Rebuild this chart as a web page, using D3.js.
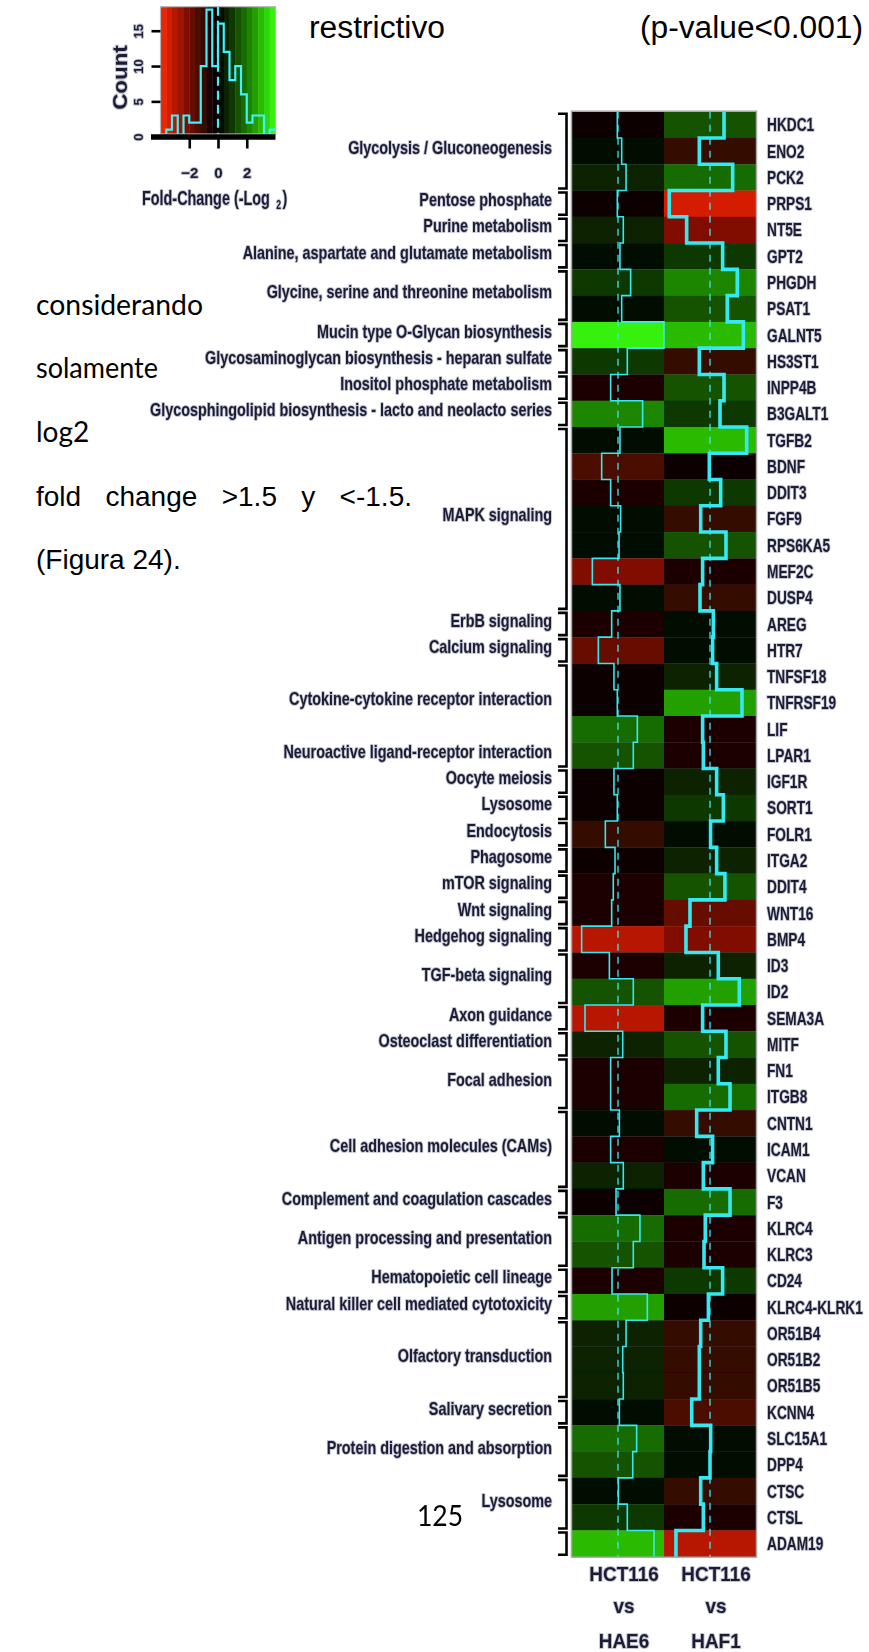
<!DOCTYPE html>
<html>
<head>
<meta charset="utf-8">
<script src="https://cdn.jsdelivr.net/npm/d3@7"></script>
<style>
  html, body { margin: 0; padding: 0; background: #fff; }
  svg { display: block; }
  .doc { font-family: "Liberation Sans", Arial, sans-serif; fill: #000; }
  .doc2 { font-family: Lato, "Liberation Sans", sans-serif; fill: #000; }
  .lab { font-family: "Liberation Sans", Arial, sans-serif; font-weight: bold; fill: #1d1d33;
         stroke: #c3c6d6; stroke-width: 2; paint-order: stroke; stroke-linejoin: round; }
</style>
</head>
<body>
<svg id="fig" width="869" height="1652"></svg>
<script>
// Genes shown in the heatmap, top to bottom
const genes = ["HKDC1","ENO2","PCK2","PRPS1","NT5E","GPT2","PHGDH","PSAT1","GALNT5","HS3ST1",
  "INPP4B","B3GALT1","TGFB2","BDNF","DDIT3","FGF9","RPS6KA5","MEF2C","DUSP4","AREG",
  "HTR7","TNFSF18","TNFRSF19","LIF","LPAR1","IGF1R","SORT1","FOLR1","ITGA2","DDIT4",
  "WNT16","BMP4","ID3","ID2","SEMA3A","MITF","FN1","ITGB8","CNTN1","ICAM1",
  "VCAN","F3","KLRC4","KLRC3","CD24","KLRC4-KLRK1","OR51B4","OR51B2","OR51B5","KCNN4",
  "SLC15A1","DPP4","CTSC","CTSL","ADAM19"];

// log2 fold change, HCT116 vs HAE6
const hae6 = [-0.06, 0.32, 0.70, -0.06, 0.46, 0.17, 1.10, 0.32, 4.00, 0.81,
  -0.64, 2.14, 0.17, -1.42, -0.64, 0.23, 0.09, -2.23, 0.17, -0.55,
  -1.71, -0.35, -0.06, 1.68, 1.33, -0.35, -0.06, -1.10, -0.26, -0.41,
  -0.55, -3.16, -0.75, 1.33, -2.87, 0.41, -0.64, -0.64, 0.12, -0.64,
  0.46, -0.17, 1.91, 1.33, -0.52, 2.55, 0.70, 0.41, 0.46, 0.12,
  1.62, 1.28, 0.03, 0.81, 3.13];

// log2 fold change, HCT116 vs HAF1
const haf1 = [1.22, -0.93, 1.97, -3.54, -2.03, 1.10, 2.37, 1.50, 2.90, -0.93,
  1.22, 0.87, 3.19, -0.06, 0.93, -0.81, 1.39, -0.64, -0.87, 0.29,
  0.23, 0.58, 2.78, -0.64, -0.58, 0.58, 1.16, 0.05, 0.58, 1.30,
  -1.74, -2.09, 0.72, 2.55, -0.64, 1.39, 0.72, 1.74, -1.16, 0.23,
  -0.58, 1.74, -0.41, -0.52, 1.10, -0.14, -0.81, -0.93, -0.93, -1.59,
  0.06, 0.00, -0.81, -0.58, -2.96];

const comparisons = ["HAE6", "HAF1"];

// KEGG pathway groups and how many consecutive genes each one covers
const pathwayNames = ["Glycolysis / Gluconeogenesis", "Pentose phosphate", "Purine metabolism",
  "Alanine, aspartate and glutamate metabolism", "Glycine, serine and threonine metabolism",
  "Mucin type O-Glycan biosynthesis", "Glycosaminoglycan biosynthesis - heparan sulfate",
  "Inositol phosphate metabolism", "Glycosphingolipid biosynthesis - lacto and neolacto series",
  "MAPK signaling", "ErbB signaling", "Calcium signaling", "Cytokine-cytokine receptor interaction",
  "Neuroactive ligand-receptor interaction", "Oocyte meiosis", "Lysosome", "Endocytosis",
  "Phagosome", "mTOR signaling", "Wnt signaling", "Hedgehog signaling", "TGF-beta signaling",
  "Axon guidance", "Osteoclast differentiation", "Focal adhesion", "Cell adhesion molecules (CAMs)",
  "Complement and coagulation cascades", "Antigen processing and presentation",
  "Hematopoietic cell lineage", "Natural killer cell mediated cytotoxicity", "Olfactory transduction",
  "Salivary secretion", "Protein digestion and absorption", "Lysosome", ""];
const pathwaySizes = [3, 1, 1, 1, 2, 1, 1, 1, 1, 7, 1, 1, 3, 1, 1, 1, 1, 1, 1, 1, 1, 2,
  1, 1, 2, 3, 1, 2, 1, 1, 3, 1, 2, 2, 1];
// groups whose bracket runs on into the following group
const sharedBracket = ["Cytokine-cytokine receptor interaction"];

// colour key / histogram settings
const foldRange = [-4, 4];
const nBreaks = 20;
const countTicks = [0, 5, 10, 15];
const foldTicks = [-2, 0, 2];

// surrounding document text
const docLines = [
  { text: "considerando", x: 36, y: 315, cls: "doc2", len: 167 },
  { text: "solamente", x: 36, y: 378, cls: "doc2", len: 122 },
  { text: "log2", x: 36, y: 442, cls: "doc2", len: null },
  { text: "fold change >1.5 y <-1.5.", x: 36, y: 506, cls: "doc", len: 376 },
  { text: "(Figura 24).", x: 36, y: 569, cls: "doc", len: null }
];

const svg = d3.select("#fig");

// ---------- document text ----------
svg.append("text").attr("class", "doc").attr("x", 309).attr("y", 38)
  .attr("font-size", 31).attr("textLength", 136).attr("lengthAdjust", "spacingAndGlyphs")
  .text("restrictivo");
svg.append("text").attr("class", "doc").attr("x", 640).attr("y", 38)
  .attr("font-size", 31).attr("textLength", 223).attr("lengthAdjust", "spacingAndGlyphs")
  .text("(p-value<0.001)");
docLines.forEach(d => {
  const t = svg.append("text").attr("class", d.cls).attr("x", d.x).attr("y", d.y)
    .attr("font-size", 28).text(d.text);
  if (d.len) {
    // justified line: widen the gaps between words, not the letters
    const natural = t.node().getComputedTextLength();
    const gaps = d.text.split(" ").length - 1;
    if (gaps > 1) t.attr("word-spacing", (d.len - natural) / gaps);
    else t.attr("textLength", d.len).attr("lengthAdjust", "spacingAndGlyphs");
  }
});

// ---------- colour scale ----------
const binW = (foldRange[1] - foldRange[0]) / nBreaks;
const thresholds = d3.range(1, nBreaks).map(i => foldRange[0] + i * binW);
const bandCenters = d3.range(nBreaks).map(i => foldRange[0] + (i + 0.5) * binW);
function shade(v) {
  if (v < 0) { const f = Math.pow(-v / foldRange[1], 1.15); return d3.rgb(255 * f, 34 * f, 0).formatHex(); }
  const f = Math.pow(v / foldRange[1], 1.08);
  return d3.rgb(56 * f, 255 * f, 8 * f).formatHex();
}
const color = d3.scaleThreshold().domain(thresholds).range(bandCenters.map(shade));

const chart = svg.append("g");
const defs = svg.append("defs");
defs.append("filter").attr("id", "soft").append("feGaussianBlur").attr("stdDeviation", 0.45);
chart.attr("filter", "url(#soft)");

// ---------- colour key with histogram ----------
const keyX = d3.scaleLinear().domain(foldRange).range([160.5, 275.5]);
const keyY = d3.scaleLinear().domain([0, 18.4]).range([136.7, 6.7]);
const key = chart.append("g");
const bandEdges = [foldRange[0]].concat(thresholds, [foldRange[1]]);
key.selectAll("rect.band").data(bandCenters).join("rect")
  .attr("class", "band")
  .attr("x", (d, i) => keyX(bandEdges[i]))
  .attr("width", (d, i) => keyX(bandEdges[i + 1]) - keyX(bandEdges[i]) + 0.4)
  .attr("y", keyY.range()[1]).attr("height", 134 - keyY.range()[1])
  .attr("fill", d => color(d));
key.append("rect").attr("x", keyX(foldRange[0])).attr("y", keyY.range()[1])
  .attr("width", keyX(foldRange[1]) - keyX(foldRange[0])).attr("height", 134 - keyY.range()[1])
  .attr("fill", "none").attr("stroke", "#b8b8b8").attr("stroke-width", 1.2);

const allValues = hae6.concat(haf1);
const bins = d3.bin().domain(foldRange).thresholds(thresholds)(allValues);
const histPts = [];
bins.forEach(b => { histPts.push([keyX(b.x0), keyY(b.length)], [keyX(b.x1), keyY(b.length)]); });
key.append("path").attr("d", d3.line()(histPts)).attr("fill", "none")
  .attr("stroke", "#3ff0fa").attr("stroke-width", 2.2);
key.append("line").attr("x1", keyX(0)).attr("x2", keyX(0))
  .attr("y1", keyY.range()[1]).attr("y2", 134)
  .attr("stroke", "#3ff0fa").attr("stroke-width", 2.2).attr("stroke-dasharray", "9,5");

// base line of the histogram panel
key.append("line").attr("x1", 151).attr("x2", keyX(foldRange[1]))
  .attr("y1", 137).attr("y2", 137).attr("stroke", "#000").attr("stroke-width", 5.5);

const yAxis = key.append("g").attr("transform", `translate(${keyX(foldRange[0])},0)`)
  .call(d3.axisLeft(keyY).tickValues(countTicks).tickSize(9));
yAxis.select(".domain").remove();
yAxis.selectAll(".tick line").attr("stroke", "#000").attr("stroke-width", 2.6);
yAxis.selectAll(".tick text").attr("class", "lab")
  .attr("transform", "rotate(-90)").attr("x", 0).attr("y", -18).attr("dy", null)
  .attr("text-anchor", "middle").attr("font-size", 13);
yAxis.attr("font-family", null).attr("font-size", null);

const xAxis = key.append("g").attr("transform", "translate(0,138.5)")
  .call(d3.axisBottom(keyX).tickValues(foldTicks).tickSize(10).tickFormat(d3.format("d")));
xAxis.select(".domain").remove();
xAxis.selectAll(".tick line").attr("stroke", "#000").attr("stroke-width", 2.6);
xAxis.selectAll(".tick text").attr("class", "lab").attr("y", 39.5).attr("dy", null)
  .attr("font-size", 15);
xAxis.attr("font-family", null).attr("font-size", null);

key.append("text").attr("class", "lab")
  .attr("transform", "translate(127,77.5) rotate(-90) scale(1.12,1)")
  .attr("text-anchor", "middle").attr("font-size", 20).text("Count");

// axis title with a subscript, squeezed horizontally like the other labels
const xl = key.append("text").attr("class", "lab")
  .attr("transform", "translate(142,205) scale(0.72,1)").attr("font-size", 20);
xl.append("tspan").text("Fold-Change (-Log");
xl.append("tspan").attr("dx", 9).attr("dy", 4).attr("font-size", 12).text("2");
xl.append("tspan").attr("dx", 2).attr("dy", -4).text(")");

// ---------- heatmap ----------
const y = d3.scaleBand().domain(genes).range([111.7, 1556.7]);
const x = d3.scaleBand().domain(comparisons).range([572, 756]);
const traceX = d3.scaleLinear().domain(foldRange).range([0, x.bandwidth()]);
const series = { HAE6: hae6, HAF1: haf1 };

const heat = chart.append("g");
comparisons.forEach(c => {
  heat.selectAll(`rect.c${c}`).data(genes).join("rect")
    .attr("class", `c${c}`)
    .attr("x", x(c)).attr("width", x.bandwidth() + 0.3)
    .attr("y", g => y(g)).attr("height", y.bandwidth() + 0.3)
    .attr("fill", (g, i) => color(series[c][i]));
});
heat.append("rect").attr("x", x.range()[0] - 0.5).attr("y", y.range()[0] - 0.5)
  .attr("width", x.range()[1] - x.range()[0] + 1).attr("height", y.range()[1] - y.range()[0] + 1)
  .attr("fill", "none").attr("stroke", "#a8a8a8").attr("stroke-width", 1.5);

// zero reference lines
comparisons.forEach(c => {
  heat.append("line").attr("x1", x(c) + traceX(0)).attr("x2", x(c) + traceX(0))
    .attr("y1", y.range()[0]).attr("y2", y.range()[1])
    .attr("stroke", "#3fe6f0").attr("stroke-width", 1.3).attr("stroke-dasharray", "7,6");
});

// fold-change traces
const traceWidth = { HAE6: 1.6, HAF1: 3.6 };
comparisons.forEach(c => {
  const pts = [];
  genes.forEach((g, i) => {
    const xx = x(c) + traceX(series[c][i]);
    pts.push([xx, y(g)], [xx, y(g) + y.bandwidth()]);
  });
  heat.append("path").attr("d", d3.line()(pts)).attr("fill", "none")
    .attr("stroke", "#36e9f3").attr("stroke-width", traceWidth[c]).attr("stroke-linejoin", "miter");
});

// gene labels
chart.append("g").selectAll("text").data(genes).join("text")
  .attr("class", "lab").attr("font-size", 18.5)
  .attr("transform", g => `translate(767,${y(g) + y.bandwidth() / 2 + 6.5}) scale(0.74,1)`)
  .text(g => g);

// column labels
const colLab = chart.append("g");
comparisons.forEach(c => {
  const cx = x(c) + x.bandwidth() / 2 + 6;
  [["HCT116", 1581], ["vs", 1613], [c, 1648]].forEach(([t, yy]) => {
    colLab.append("text").attr("class", "lab").attr("font-size", 21).attr("text-anchor", "middle")
      .attr("transform", `translate(${cx},${yy}) scale(0.9,1)`).text(t);
  });
});

// pathway brackets and labels
let start = 0;
const groups = pathwayNames.map((name, i) => {
  const g = { name, first: genes[start], last: genes[start + pathwaySizes[i] - 1] };
  start += pathwaySizes[i];
  return g;
});
const spans = [];
groups.forEach((g, i) => {
  const prev = groups[i - 1];
  if (prev && sharedBracket.includes(prev.name)) spans[spans.length - 1].last = g.last;
  else spans.push({ first: g.first, last: g.last });
});
const brk = chart.append("g");
spans.forEach(s => {
  const top = y(s.first) + 2, bot = y(s.last) + y.bandwidth() - 2;
  brk.append("path").attr("d", `M558,${top}H566.5V${bot}H558`)
    .attr("fill", "none").attr("stroke", "#000").attr("stroke-width", 2.6);
});
brk.selectAll("text").data(groups).join("text")
  .attr("class", "lab").attr("font-size", 18).attr("text-anchor", "end")
  .attr("transform", g => `translate(552,${(y(g.first) + y(g.last) + y.bandwidth()) / 2 + 2.5}) scale(0.8,1)`)
  .text(g => g.name);

// page number
svg.append("text").attr("class", "doc2").attr("x", 417).attr("y", 1526)
  .attr("font-size", 28).attr("textLength", 46).attr("lengthAdjust", "spacingAndGlyphs").text("125");
</script>
</body>
</html>
